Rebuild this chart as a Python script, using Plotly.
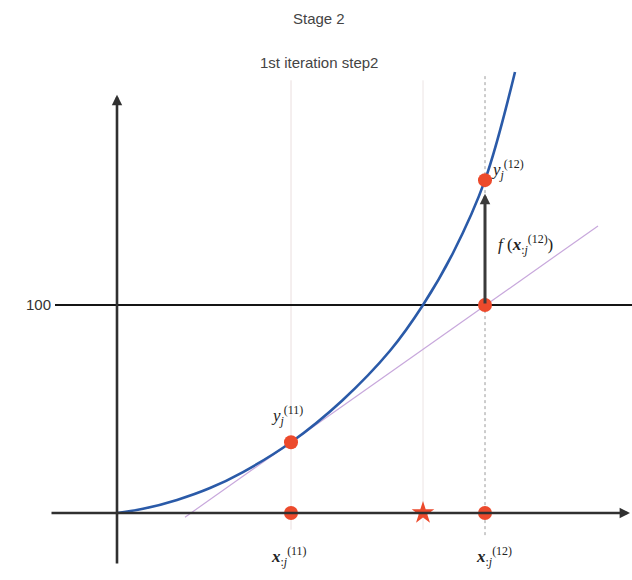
import plotly.graph_objects as go

# Curve samples f(x) (x measured from the vertical axis)
curve_x = [0.00, 0.26, 0.60, 0.93, 1.26, 1.74, 2.25, 2.73, 3.06, 3.36, 3.68, 3.98]
curve_y = [0.0, 2.0, 6.3, 12.0, 19.7, 34.0, 54.0, 78.0, 100.0, 125.0, 160.0, 212.0]

# Iterates and target level
x11, y11 = 1.74, 34.0
x12, y12 = 3.68, 160.0
x_root = 3.06
target = 100.0

# Tangent line at x11 (end points)
tangent_x = [0.68, 4.81]
tangent_y = [-2.0, 138.0]

# Red markers on the curve, the target line and the x axis
marker_x = [x11, x12, x12, x11, x12]
marker_y = [y11, y12, target, 0.0, 0.0]

X_RANGE = [-1.17, 5.15]
Y_RANGE = [-32.2, 246.6]

RED = "#ec4a2c"
BLUE = "#2a5aa8"
AXIS = "#303030"
MATH_FONT = dict(family="Liberation Serif", size=17, color="#222222")
TEXT_FONT = dict(family="Liberation Sans", size=15, color="#444444")

fig = go.Figure()

# Vertical guide lines
fig.add_trace(go.Scatter(x=[x11, x11], y=[208, -8], mode="lines",
                         line=dict(color="#eadede", width=1), hoverinfo="skip"))
fig.add_trace(go.Scatter(x=[x_root, x_root], y=[208, -8], mode="lines",
                         line=dict(color="#ece4e4", width=1), hoverinfo="skip"))
fig.add_trace(go.Scatter(x=[x12, x12], y=[210, -12], mode="lines",
                         line=dict(color="#9a9a9a", width=1, dash="dot"), hoverinfo="skip"))

# Target level line
fig.add_trace(go.Scatter(x=[-0.62, X_RANGE[1]], y=[target, target], mode="lines",
                         line=dict(color="#151515", width=2), hoverinfo="skip"))

# Tangent
fig.add_trace(go.Scatter(x=tangent_x, y=tangent_y, mode="lines",
                         line=dict(color="#c8a8dc", width=1.2), hoverinfo="skip"))

# Function curve
fig.add_trace(go.Scatter(x=curve_x, y=curve_y, mode="lines",
                         line=dict(color=BLUE, width=2.6, shape="spline", smoothing=1.0),
                         hoverinfo="skip"))

# Points
fig.add_trace(go.Scatter(x=marker_x, y=marker_y, mode="markers",
                         marker=dict(color=RED, size=14, line=dict(width=0)),
                         hoverinfo="skip"))
fig.add_trace(go.Scatter(x=[x_root], y=[0.0], mode="markers",
                         marker=dict(color=RED, size=17, symbol="star", line=dict(width=0)),
                         hoverinfo="skip"))


def px_row(py):
    """Convert a pixel row of the 580 px tall page to y units."""
    return Y_RANGE[1] - py * (Y_RANGE[1] - Y_RANGE[0]) / 580


annotations = [
    # x axis with arrow
    dict(x=5.13, y=0, ax=-0.67, ay=0, xref="x", yref="y", axref="x", ayref="y",
         text="", showarrow=True, arrowhead=2, arrowsize=0.8, arrowwidth=2.6,
         arrowcolor=AXIS),
    # y axis with arrow
    dict(x=0, y=201, ax=0, ay=-25, xref="x", yref="y", axref="x", ayref="y",
         text="", showarrow=True, arrowhead=2, arrowsize=0.8, arrowwidth=2.6,
         arrowcolor=AXIS),
    # f(x) step arrow
    dict(x=x12, y=153.5, ax=x12, ay=target, xref="x", yref="y", axref="x", ayref="y",
         text="", showarrow=True, arrowhead=2, arrowsize=0.7, arrowwidth=3,
         arrowcolor="#3a3a3a"),
    # tick label
    dict(x=-0.64, y=target, xref="x", yref="y", text="100", showarrow=False,
         xanchor="right", yanchor="middle",
         font=dict(family="Liberation Sans", size=15, color="#333333")),
    # titles
    dict(x=0.505, y=px_row(18), xref="paper", yref="y", text="Stage 2",
         showarrow=False, font=TEXT_FONT),
    dict(x=0.505, y=px_row(62), xref="paper", yref="y", text="1st iteration step2",
         showarrow=False, font=TEXT_FONT),
    # math labels
    dict(x=x11 - 0.22, y=y11 + 13, xref="x", yref="y",
         text="<i>y</i><sub><i>j</i></sub><sup>(11)</sup>", showarrow=False,
         xanchor="left", yanchor="middle", font=MATH_FONT),
    dict(x=x12 + 0.04, y=y12 + 5, xref="x", yref="y",
         text="<i>y</i><sub><i>j</i></sub><sup>(12)</sup>", showarrow=False,
         xanchor="left", yanchor="middle", font=MATH_FONT),
    dict(x=x12 + 0.11, y=129, xref="x", yref="y",
         text="<i>f</i> (<b><i>x</i></b><sub>:<i>j</i></sub><sup>(12)</sup>)", showarrow=False,
         xanchor="left", yanchor="middle", font=MATH_FONT),
    dict(x=x11 - 0.02, y=px_row(556), xref="x", yref="y",
         text="<b><i>x</i></b><sub>:<i>j</i></sub><sup>(11)</sup>", showarrow=False,
         xanchor="center", yanchor="middle", font=MATH_FONT),
    dict(x=x12 + 0.09, y=px_row(556), xref="x", yref="y",
         text="<b><i>x</i></b><sub>:<i>j</i></sub><sup>(12)</sup>", showarrow=False,
         xanchor="center", yanchor="middle", font=MATH_FONT),
]

fig.update_layout(
    width=632, height=580,
    margin=dict(l=0, r=0, t=0, b=0),
    paper_bgcolor="white", plot_bgcolor="white",
    showlegend=False,
    xaxis=dict(range=X_RANGE, visible=False, fixedrange=True),
    yaxis=dict(range=Y_RANGE, visible=False, fixedrange=True),
    annotations=annotations,
)

fig.write_html("out.html")
